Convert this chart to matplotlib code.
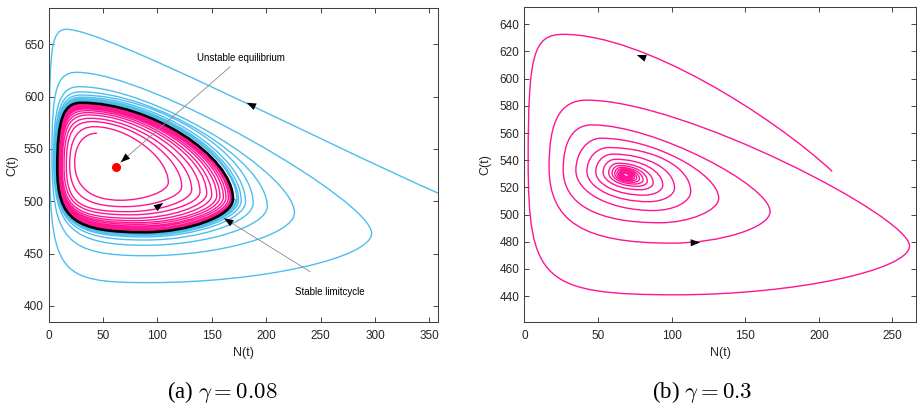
import numpy as np
import matplotlib
matplotlib.use('Agg')
import matplotlib.pyplot as plt
from matplotlib.path import Path
from matplotlib.patches import PathPatch

plt.rcParams['font.family'] = ['Liberation Sans', 'DejaVu Sans']
plt.rcParams['mathtext.fontset'] = 'cm'

# ------------------------------------------------------------------
# DATA
# Trajectories are given by their successive turning points, in the
# order of travel: (start,) top, left, bottom, right, top, ...
# ------------------------------------------------------------------
# Panel (a): gamma = 0.08
a_xticks = [0, 50, 100, 150, 200, 250, 300, 350]
a_yticks = [400, 450, 500, 550, 600, 650]
a_blue_N = [358.3,
            16.6, 0.7, 93, 297,
            25.7, 3.0, 90, 226,
            28, 4.5, 89, 201,
            29, 5.5, 89, 188,
            29.5, 6.2, 88.5, 181,
            30, 6.8, 88.5, 177,
            30, 7.2, 88, 174.5,
            30, 7.5, 88, 173,
            30, 7.7, 88, 172]
a_blue_C = [507.7,
            664.3, 565, 422.3, 469.5,
            623.2, 545, 448, 489,
            609.5, 540, 458, 495,
            604.5, 537, 463, 498,
            601.5, 535, 466, 499.5,
            599.5, 534, 467.5, 500.5,
            598, 533, 468.5, 501,
            597, 533, 469.3, 501.5,
            596, 532.5, 470, 501.8]
a_pink_N = [44, 23.9, 66, 110,
            42, 19.3, 70, 122.3,
            40, 16.2, 73, 131.5,
            38, 14.1, 76, 139.1,
            36.5, 12.5, 78, 145.3,
            35.5, 11.3, 80, 149.9,
            34.5, 10.4, 82, 154.5,
            33.5, 9.8, 83, 157.5,
            33, 9.2, 84, 160.6,
            32.5, 8.8, 85, 163,
            32, 8.5, 86, 165.2,
            31.5, 8.3, 87, 166.8,
            31, 8.1, 87.5, 168,
            30.5, 8.0, 88, 169]
a_pink_C = [565, 537, 501, 518,
            571.3, 535, 494.9, 514,
            576.1, 534, 490.1, 511,
            579.3, 533.5, 487.1, 509,
            582.5, 533, 483.8, 507.5,
            584.7, 533, 481.5, 506,
            586.6, 532.5, 479.6, 505,
            588.2, 532.5, 478, 504.5,
            589.4, 532, 476.4, 504,
            590.4, 532, 475.2, 503.5,
            591.3, 532, 473.8, 503,
            592.3, 532, 472.9, 502.5,
            593.1, 532, 472, 502.2,
            593.7, 532, 471.3, 502]
# limit cycle: right, top, left, bottom, right
a_cycle_N = [169.5, 30, 7.9, 88, 169.5]
a_cycle_C = [502, 594.2, 532, 470.4, 502]
a_eq_N, a_eq_C = 61.6, 533.1

# Panel (b): gamma = 0.3
b_xticks = [0, 50, 100, 150, 200, 250]
b_yticks = [440, 460, 480, 500, 520, 540, 560, 580, 600, 620, 640]
b_N = [208.8,
       26.5, 2.6, 103, 261.6,
       42.4, 16.8, 100, 166.9,
       46, 26.4, 92, 132,
       52, 35, 87.6, 113,
       57, 42.5, 84.5, 102,
       60, 48.5, 81.3, 94,
       62, 53.5, 78.8, 87.5,
       63.5, 57.3, 76.8, 83.5,
       64.6, 59.6, 75.2, 80.6,
       65.4, 61.4, 73.9, 78.2,
       66.1, 62.9, 72.9, 76.3,
       66.6, 64.1, 72.1, 74.8,
       67.1, 65.0, 71.4, 73.6,
       67.4, 65.8, 70.9, 72.6,
       67.7, 66.4, 70.5, 71.9,
       67.9, 66.8, 70.2, 71.3,
       68.1, 67.3, 69.8, 70.7]
b_C = [532.1,
       632.6, 540, 441, 477,
       584.2, 535, 479, 502.2,
       566, 533, 494, 512,
       556.2, 532.5, 503, 517,
       549.3, 532, 509.5, 519.5,
       544.5, 531.5, 514.3, 521.5,
       540.7, 531.2, 518.3, 523.3,
       537.8, 530.9, 520.8, 524.5,
       536.1, 530.6, 522.5, 525.4,
       534.7, 530.3, 523.8, 526.2,
       533.6, 530.1, 524.9, 526.8,
       532.7, 529.9, 525.8, 527.3,
       532.0, 529.8, 526.4, 527.7,
       531.4, 529.6, 527.0, 528.0,
       531.0, 529.6, 527.4, 528.2,
       530.7, 529.5, 527.8, 528.4,
       530.3, 529.4, 528.1, 528.6]

# ------------------------------------------------------------------
# drawing helpers (smooth Bezier curves between turning points)
# ------------------------------------------------------------------
CYCLE = 'RTLB'


def point_kinds(first, n):
    if first == 'S':
        return ['S'] + [CYCLE[(1 + i) % 4] for i in range(n - 1)]
    j = CYCLE.index(first)
    return [CYCLE[(j + i) % 4] for i in range(n)]


def handle(kind, p, q, h):
    if kind == 'S':
        return np.array([h[0] * (q[0] - p[0]), h[1] * (q[1] - p[1])])
    if kind in 'RL':
        return np.array([0.0, h * (q[1] - p[1])])
    return np.array([h * (q[0] - p[0]), 0.0])


def trajectory_path(N, C, first, styles):
    kinds = point_kinds(first, len(N))
    pts = np.column_stack([N, C]).astype(float)
    verts = [pts[0]]
    codes = [Path.MOVETO]
    for i in range(len(pts) - 1):
        seg = kinds[i] + kinds[i + 1]
        loop = kinds[:i + 1].count('T')
        st = styles[min(loop, len(styles) - 1)]
        h0, h1 = st[seg]
        p, q = pts[i], pts[i + 1]
        verts += [p + handle(kinds[i], p, q, h0),
                  q + handle(kinds[i + 1], q, p, h1), q]
        codes += [Path.CURVE4] * 3
    return Path(np.array(verts), codes)


def draw(ax, N, C, first, styles, color, lw, z):
    ax.add_patch(PathPatch(trajectory_path(N, C, first, styles),
                           facecolor='none', edgecolor=color, lw=lw,
                           joinstyle='round', capstyle='round', zorder=z))


def head(ax, x, y, ux, uy, L=9):
    # arrowhead at (x, y); (ux, uy) is the direction on screen
    ax.annotate('', xy=(x, y), xycoords='data',
                xytext=(-ux * L, -uy * L), textcoords='offset points',
                arrowprops=dict(arrowstyle='-|>,head_length=0.85,head_width=0.32',
                                mutation_scale=8, fc='k', ec='k', lw=0.0,
                                shrinkA=0, shrinkB=0), zorder=6)


D = {'ST': ((0.33, 0.33), 0.1), 'TL': (0.75, 0.75), 'LB': (0.8, 0.8),
     'BR': (0.5, 0.5), 'RT': (0.45, 0.45)}
styles_blue = [D,
               {'TL': (0.85, 0.85), 'LB': (0.95, 0.95), 'BR': (0.5, 0.5), 'RT': (0.2, 0.25)},
               {'TL': (0.8, 0.8), 'LB': (0.85, 0.85), 'BR': (0.5, 0.5), 'RT': (0.3, 0.35)},
               {'TL': (0.75, 0.75), 'LB': (0.8, 0.8), 'BR': (0.5, 0.5), 'RT': (0.4, 0.4)},
               D]
styles_pink = [D,
               {'TL': (0.6, 0.6), 'LB': (0.65, 0.65), 'BR': (0.5, 0.5), 'RT': (0.45, 0.45)},
               {'TL': (0.68, 0.68), 'LB': (0.72, 0.72), 'BR': (0.5, 0.5), 'RT': (0.45, 0.45)},
               D]
E = {'TL': (0.55, 0.55), 'LB': (0.55, 0.55), 'BR': (0.55, 0.55), 'RT': (0.55, 0.55)}
styles_b = [{'ST': ((0.22, 0.4), 0.3)},
            {'TL': (0.85, 0.85), 'LB': (0.9, 0.9), 'BR': (0.5, 0.5), 'RT': (0.2, 0.3)},
            {'TL': (0.7, 0.7), 'LB': (0.72, 0.72), 'BR': (0.5, 0.5), 'RT': (0.3, 0.35)},
            {'TL': (0.65, 0.65), 'LB': (0.65, 0.65), 'BR': (0.5, 0.5), 'RT': (0.4, 0.45)},
            E]

BLUE = '#4DBEEE'
PINK = '#FF1493'
AX_COLOR = '#262626'

fig = plt.figure(figsize=(9.17, 4.08), dpi=100)
axA = fig.add_axes([0.0531, 0.2108, 0.4242, 0.7689])
axB = fig.add_axes([0.5718, 0.2108, 0.4271, 0.7713])


def style_axes(ax, xt, yt, xlim, ylim, ylab_x):
    ax.set_xlim(*xlim)
    ax.set_ylim(*ylim)
    ax.set_xticks(xt)
    ax.set_yticks(yt)
    ax.tick_params(direction='in', length=3.5, width=0.6, top=True, right=True,
                   labelsize=8.5, colors=AX_COLOR)
    ax.tick_params(axis='x', pad=5.5)
    ax.tick_params(axis='y', pad=3.5)
    for s in ax.spines.values():
        s.set_color('#404040')
        s.set_linewidth(0.75)
    ax.set_xlabel('N(t)', fontsize=9, color=AX_COLOR)
    ax.set_ylabel('C(t)', fontsize=9, color=AX_COLOR)
    ax.xaxis.set_label_coords(0.5, -0.099)
    ax.xaxis.label.set_verticalalignment('center')
    ax.yaxis.set_label_coords(ylab_x, 0.5)
    ax.yaxis.label.set_verticalalignment('center')


# ---- panel (a) ----
style_axes(axA, a_xticks, a_yticks, (0, 357.7), (384.7, 684.4), -0.094)
draw(axA, a_blue_N, a_blue_C, 'S', styles_blue, BLUE, 1.0, 2)
draw(axA, a_pink_N, a_pink_C, 'T', styles_pink, PINK, 1.0, 3)
draw(axA, a_cycle_N, a_cycle_C, 'R', [D], 'black', 1.9, 4)
axA.plot([a_eq_N], [a_eq_C], 'o', color='red', ms=5.5, zorder=5)
head(axA, 182, 594.2, -0.904, 0.427)
head(axA, 105.4, 498.5, 0.82, 0.57)
# annotations
axA.annotate('', xy=(66.2, 537.3), xytext=(166.9, 628.6),
             arrowprops=dict(arrowstyle='-', color='#8a8a8a', lw=0.6,
                             shrinkA=0, shrinkB=0), zorder=5)
head(axA, 66.2, 537.3, -0.753, -0.658)
axA.text(176.4, 636.5, 'Unstable equilibrium', fontsize=7, ha='center',
         va='center', color='black')
axA.annotate('', xy=(161.2, 483.8), xytext=(240.3, 432.8),
             arrowprops=dict(arrowstyle='-', color='#8a8a8a', lw=0.6,
                             shrinkA=0, shrinkB=0), zorder=5)
head(axA, 161.2, 483.8, -0.85, 0.528)
axA.text(258.3, 413, 'Stable limitcycle', fontsize=7, ha='center',
         va='center', color='black')

# ---- panel (b) ----
style_axes(axB, b_xticks, b_yticks, (0, 266), (421, 652.5), -0.1003)
draw(axB, b_N, b_C, 'S', styles_b, PINK, 1.0, 3)
head(axB, 76.4, 617.4, -0.938, 0.347)
head(axB, 119.4, 479.5, 1.0, 0.03)

# captions
fig.text(222.6 / 917, 0.04, r'(a) $\gamma = 0.08$', fontsize=16.5,
         family=['Liberation Serif', 'DejaVu Serif'], ha='center', va='center')
fig.text(702.5 / 917, 0.04, r'(b) $\gamma = 0.3$', fontsize=16.5,
         family=['Liberation Serif', 'DejaVu Serif'], ha='center', va='center')

fig.savefig('out.png', dpi=100)
